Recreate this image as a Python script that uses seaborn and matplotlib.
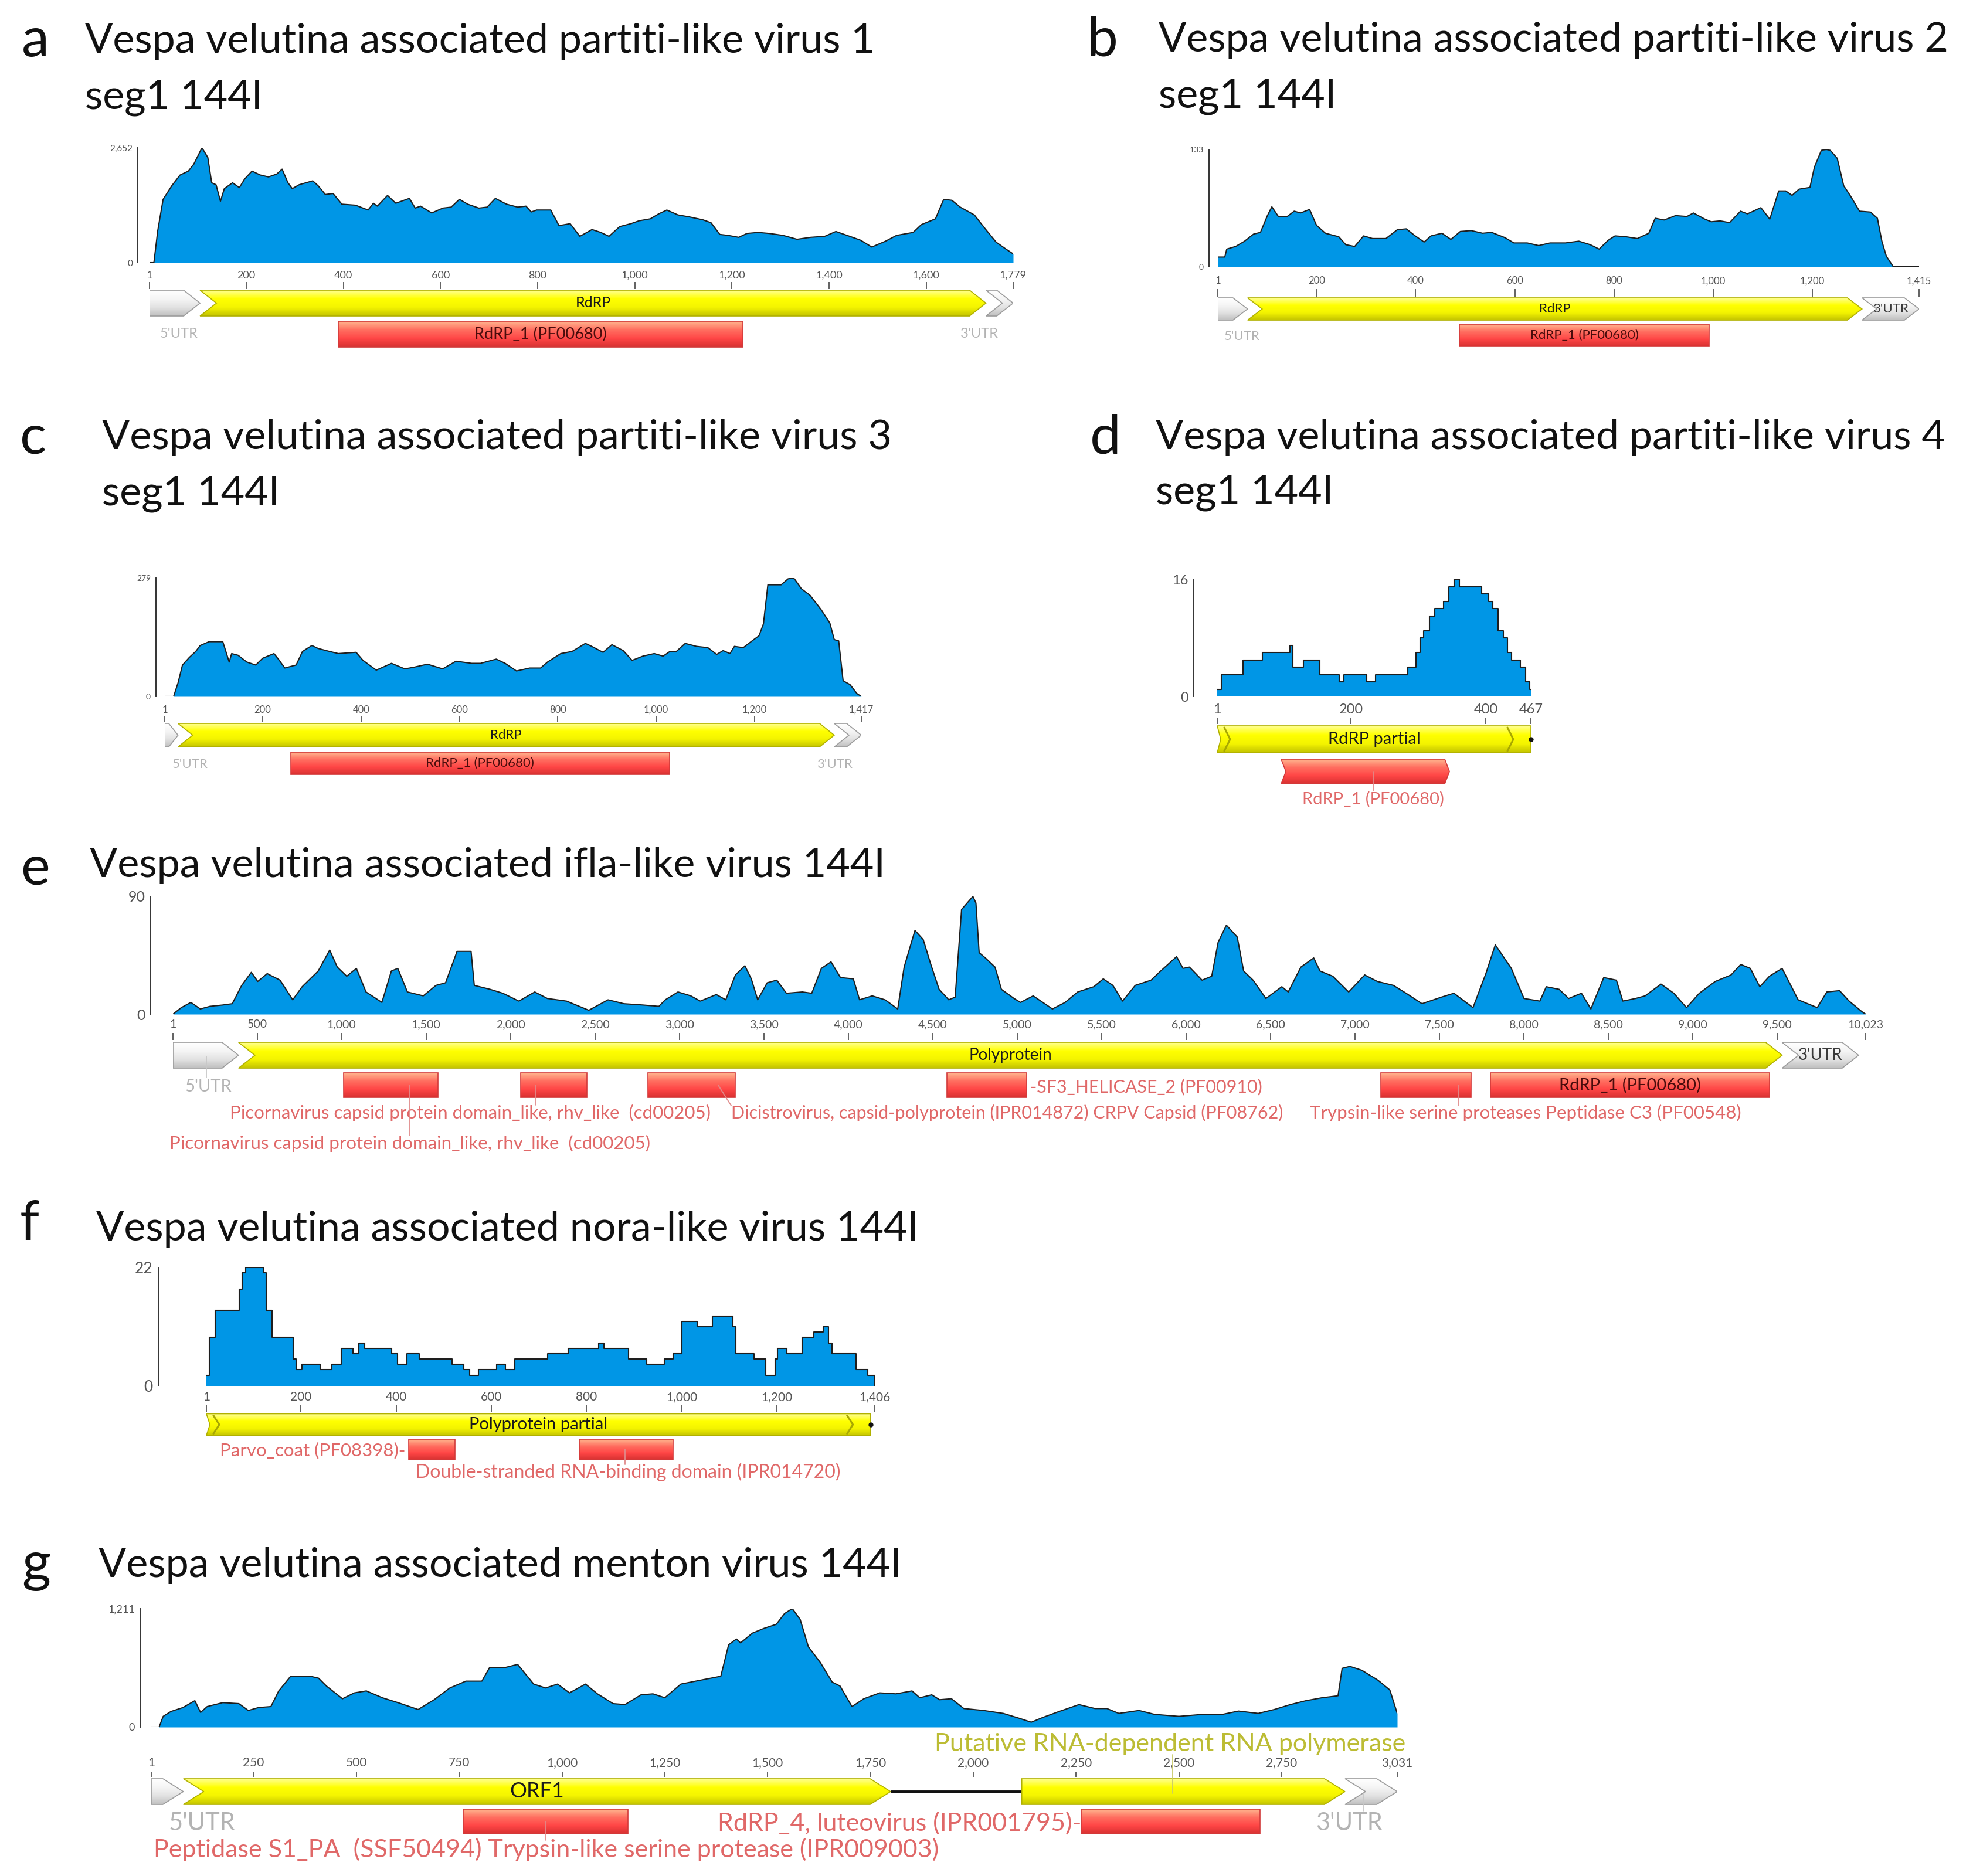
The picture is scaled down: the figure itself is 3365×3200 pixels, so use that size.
import numpy as np
import pandas as pd
import matplotlib
matplotlib.use("Agg")
import matplotlib.pyplot as plt
from matplotlib.patches import Polygon
from matplotlib.colors import LinearSegmentedColormap
import seaborn as sns

# ---------------- data ----------------
# a: partiti-like virus 1
a_len, a_ymax = 1779, 2652
a_pos = [1, 10, 18, 29, 47, 64, 81, 92, 109, 121,
         129, 138, 147, 155, 172, 186, 197, 212, 229, 246,
         263, 274, 286, 295, 309, 337, 348, 363, 379, 397,
         425, 451, 462, 470, 491, 508, 536, 548, 559, 582,
         605, 622, 639, 656, 679, 696, 713, 736, 759, 776,
         787, 798, 827, 844, 867, 887, 912, 930, 947, 969,
         992, 1009, 1032, 1049, 1066, 1089, 1112, 1140, 1157, 1175,
         1192, 1214, 1231, 1254, 1277, 1305, 1334, 1362, 1391, 1414,
         1437, 1465, 1488, 1516, 1539, 1573, 1590, 1619, 1636, 1653,
         1670, 1699, 1721, 1744, 1761, 1779]
a_cov = [0, 0, 742, 1461, 1776, 2023, 2113, 2270, 2652, 2427,
         1843, 1798, 1416, 1708, 1843, 1731, 1933, 2113, 2023, 1978,
         2045, 2158, 1843, 1708, 1798, 1888, 1776, 1573, 1596, 1349,
         1326, 1214, 1371, 1304, 1551, 1371, 1483, 1259, 1304, 1146,
         1259, 1281, 1461, 1349, 1259, 1281, 1483, 1349, 1281, 1304,
         1169, 1214, 1214, 854, 899, 607, 764, 697, 607, 832,
         899, 966, 1011, 1124, 1214, 1101, 1056, 989, 921, 652,
         629, 584, 674, 697, 674, 629, 539, 584, 607, 719,
         629, 517, 360, 494, 629, 697, 877, 1011, 1461, 1438,
         1281, 1101, 787, 472, 337, 202]
a_ticks = [1, 200, 400, 600, 800, 1000, 1200, 1400, 1600, 1779]
a_feats = [(1, 105, "utr", ""), (105, 1723, "cds", "RdRP"), (1723, 1779, "utr", "")]
a_doms = [(390, 1222, "RdRP_1 (PF00680)")]

# b: partiti-like virus 2
b_len, b_ymax = 1415, 133
b_pos = [1, 15, 19, 37, 55, 73, 87, 101, 110, 123,
         141, 155, 168, 186, 200, 218, 245, 259, 277, 295,
         313, 340, 363, 381, 399, 417, 431, 453, 471, 490,
         512, 535, 553, 580, 598, 625, 648, 671, 702, 729,
         752, 770, 788, 802, 824, 847, 870, 883, 901, 924,
         947, 960, 983, 996, 1014, 1033, 1055, 1069, 1096, 1114,
         1132, 1146, 1159, 1173, 1195, 1204, 1218, 1228, 1236, 1250,
         1263, 1277, 1295, 1317, 1331, 1340, 1349, 1363, 1415]
b_cov = [11, 11, 20, 23, 29, 37, 39, 58, 68, 57,
         57, 63, 61, 65, 47, 38, 34, 25, 23, 35,
         32, 32, 42, 43, 35, 28, 35, 38, 31, 40,
         41, 38, 39, 33, 27, 27, 24, 27, 27, 29,
         25, 20, 30, 35, 34, 32, 38, 55, 53, 58,
         57, 61, 54, 51, 52, 50, 63, 60, 67, 54,
         86, 86, 81, 88, 90, 113, 132, 133, 132, 123,
         92, 80, 63, 62, 55, 29, 12, 0, 0]
b_ticks = [1, 200, 400, 600, 800, 1000, 1200, 1415]
b_feats = [(1, 61, "utr", ""), (61, 1300, "cds", "RdRP"), (1300, 1415, "utr", "3'UTR")]
b_doms = [(488, 992, "RdRP_1 (PF00680)")]

# c: partiti-like virus 3
c_len, c_ymax = 1417, 279
c_pos = [1, 19, 28, 37, 51, 64, 73, 91, 119, 132,
         137, 150, 168, 186, 200, 223, 232, 245, 268, 281,
         300, 313, 336, 354, 390, 404, 431, 462, 489, 508,
         535, 566, 593, 625, 643, 675, 693, 716, 743, 765,
         779, 806, 829, 856, 869, 892, 910, 933, 951, 973,
         996, 1014, 1028, 1041, 1059, 1082, 1105, 1123, 1136, 1150,
         1159, 1177, 1195, 1209, 1218, 1227, 1254, 1268, 1275, 1281,
         1295, 1313, 1335, 1353, 1362, 1371, 1380, 1394, 1408, 1417]
c_cov = [0, 0, 32, 74, 92, 106, 120, 129, 129, 81,
         101, 97, 81, 74, 90, 101, 88, 67, 74, 106,
         120, 113, 106, 101, 104, 85, 62, 78, 65, 69,
         76, 65, 83, 78, 78, 88, 78, 60, 67, 67,
         81, 101, 106, 125, 118, 104, 122, 108, 85, 95,
         101, 95, 106, 106, 125, 118, 115, 99, 108, 101,
         118, 115, 131, 143, 171, 263, 263, 277, 279, 277,
         254, 238, 205, 173, 134, 131, 37, 28, 7, 0]
c_ticks = [1, 200, 400, 600, 800, 1000, 1200, 1417]
c_feats = [(1, 28, "utr", ""), (28, 1362, "cds", "RdRP"), (1362, 1417, "utr", "")]
c_doms = [(257, 1027, "RdRP_1 (PF00680)")]

# d: partiti-like virus 4 (step coverage)
d_len, d_ymax = 467, 16
d_pos = [1, 7, 39, 68, 109, 113, 129, 153, 182, 189,
         223, 236, 284, 296, 302, 308, 316, 324, 337, 345,
         353, 361, 394, 404, 410, 418, 426, 432, 438, 451,
         459, 465, 467]
d_cov = [1, 3, 5, 6, 7, 4, 5, 3, 2, 3,
         2, 3, 4, 6, 8, 9, 11, 12, 13, 15,
         16, 15, 14, 13, 12, 9, 8, 6, 5, 4,
         2, 1, 1]
d_ticks = [1, 200, 400, 467]
d_feats = [(1, 467, "partial", "RdRP partial")]
d_doms = [(96, 346, "")]

# e: ifla-like virus
e_len, e_ymax = 10023, 90
e_pos = [1, 50, 107, 163, 220, 295, 352, 408, 465, 503,
         559, 635, 710, 766, 861, 929, 974, 1030, 1087, 1144,
         1238, 1294, 1332, 1389, 1483, 1558, 1615, 1683, 1766, 1785,
         1879, 1954, 2049, 2143, 2218, 2331, 2463, 2577, 2671, 2784,
         2878, 2916, 2991, 3067, 3123, 3218, 3274, 3331, 3387, 3425,
         3463, 3519, 3576, 3633, 3727, 3783, 3840, 3897, 3953, 4029,
         4066, 4141, 4217, 4292, 4330, 4394, 4443, 4488, 4537, 4594,
         4632, 4670, 4737, 4755, 4774, 4811, 4868, 4906, 4981, 5019,
         5094, 5208, 5283, 5358, 5453, 5509, 5566, 5623, 5698, 5792,
         5849, 5943, 5981, 6019, 6094, 6151, 6189, 6238, 6302, 6340,
         6396, 6472, 6566, 6604, 6679, 6755, 6792, 6868, 6962, 7057,
         7132, 7227, 7302, 7396, 7510, 7585, 7698, 7774, 7830, 7925,
         8000, 8094, 8132, 8208, 8264, 8340, 8396, 8472, 8547, 8585,
         8660, 8717, 8811, 8887, 8962, 9038, 9132, 9226, 9283, 9340,
         9396, 9453, 9528, 9623, 9736, 9793, 9868, 9925, 10000, 10023]
e_cov = [0, 5, 9, 4, 6, 7, 8, 22, 32, 25,
         31, 26, 11, 21, 33, 49, 36, 29, 35, 17,
         9, 33, 35, 17, 14, 22, 24, 48, 48, 22,
         19, 16, 10, 17, 12, 10, 3, 11, 8, 7,
         6, 11, 17, 14, 10, 15, 11, 30, 37, 27,
         11, 24, 26, 16, 17, 16, 35, 40, 28, 27,
         11, 14, 11, 4, 36, 64, 57, 38, 19, 11,
         13, 80, 90, 85, 47, 43, 36, 19, 12, 9,
         14, 4, 9, 17, 21, 27, 22, 10, 22, 26,
         33, 44, 35, 36, 26, 29, 55, 68, 59, 33,
         26, 12, 21, 17, 36, 43, 33, 29, 17, 30,
         25, 22, 16, 8, 13, 16, 5, 31, 53, 35,
         12, 10, 21, 19, 12, 16, 4, 28, 26, 10,
         12, 14, 23, 16, 5, 16, 25, 30, 38, 35,
         21, 29, 35, 11, 5, 17, 18, 10, 2, 0]
e_ticks = [1] + list(range(500, 10000, 500)) + [10023]
e_feats = [(1, 389, "utr", ""), (389, 9528, "cds", "Polyprotein"), (9528, 9981, "utr", "3'UTR")]
e_doms = [(1012, 1570, ""), (2060, 2452, ""), (2814, 3331, ""), (4583, 5057, ""),
          (7151, 7687, ""), (7800, 9453, "RdRP_1 (PF00680)")]

# f: nora-like virus (step coverage)
f_len, f_ymax = 1406, 22
f_pos = [1, 7, 20, 70, 76, 83, 120, 127, 139, 183,
         190, 202, 240, 259, 265, 284, 309, 322, 334, 391,
         403, 422, 448, 517, 542, 554, 573, 611, 630, 649,
         718, 762, 825, 837, 888, 926, 963, 982, 1001, 1032,
         1064, 1108, 1114, 1152, 1177, 1196, 1202, 1221, 1253, 1278,
         1297, 1309, 1316, 1366, 1391, 1406]
f_cov = [2, 9, 14, 18, 21, 22, 21, 14, 9, 5,
         3, 4, 3, 3, 4, 7, 6, 8, 7, 6,
         4, 6, 5, 4, 3, 2, 3, 4, 3, 5,
         6, 7, 8, 7, 5, 4, 5, 6, 12, 11,
         13, 11, 6, 5, 2, 5, 7, 6, 9, 10,
         11, 8, 6, 3, 2, 0]
f_ticks = [1, 200, 400, 600, 800, 1000, 1200, 1406]
f_feats = [(1, 1397, "partial", "Polyprotein partial")]
f_doms = [(426, 523, ""), (785, 982, "")]

# g: menton virus
g_len, g_ymax = 3031, 1211
g_pos = [1, 20, 30, 49, 78, 107, 121, 137, 175, 214,
         237, 262, 292, 311, 340, 388, 408, 427, 466, 495,
         524, 563, 601, 650, 689, 727, 766, 805, 824, 863,
         892, 931, 960, 989, 1018, 1057, 1086, 1124, 1153, 1192,
         1221, 1250, 1289, 1337, 1386, 1405, 1424, 1434, 1463, 1492,
         1521, 1541, 1560, 1579, 1599, 1628, 1657, 1676, 1705, 1734,
         1773, 1812, 1851, 1870, 1899, 1918, 1947, 1977, 2025, 2073,
         2112, 2141, 2170, 2209, 2257, 2296, 2325, 2354, 2403, 2441,
         2500, 2558, 2606, 2645, 2693, 2732, 2771, 2809, 2848, 2887,
         2897, 2916, 2945, 2984, 3013, 3022, 3031]
g_cov = [0, 0, 110, 160, 200, 270, 150, 210, 250, 240,
         170, 200, 210, 370, 520, 520, 500, 420, 290, 350,
         370, 300, 250, 180, 280, 400, 470, 470, 611, 611,
         641, 440, 400, 440, 350, 440, 340, 240, 230, 330,
         340, 300, 440, 480, 520, 841, 901, 861, 961, 1011,
         1051, 1161, 1211, 1101, 821, 661, 460, 420, 210, 290,
         350, 340, 370, 300, 330, 280, 290, 190, 170, 140,
         90, 50, 100, 160, 230, 190, 190, 140, 170, 130,
         110, 130, 130, 164, 140, 180, 230, 270, 300, 320,
         601, 621, 581, 480, 380, 260, 140]
g_ticks = [1] + list(range(250, 3000, 250)) + [3031]
g_feats = [(1, 79, "utr", ""), (79, 1799, "cds", "ORF1"), (1799, 2118, "gap", ""),
           (2118, 2904, "cds0", ""), (2904, 3031, "utr", "")]
g_doms = [(759, 1160, ""), (2263, 2697, "")]

titles = [
    ("a", ["Vespa velutina associated partiti-like virus 1", "seg1 144I"]),
    ("b", ["Vespa velutina associated partiti-like virus 2", "seg1 144I"]),
    ("c", ["Vespa velutina associated partiti-like virus 3", "seg1 144I"]),
    ("d", ["Vespa velutina associated partiti-like virus 4", "seg1 144I"]),
    ("e", ["Vespa velutina associated ifla-like virus 144I"]),
    ("f", ["Vespa velutina associated nora-like virus 144I"]),
    ("g", ["Vespa velutina associated menton virus 144I"]),
]

# ---------------- style ----------------
W, H = 3366, 3200
BLUE = "#0096e6"
TICK_GREY = "#555555"
UTR_GREY = "#b3b3b3"
LAB_RED = "#e06868"
OLIVE = "#bcbc34"
GRADS = {
    "cds": ["#ffff90", "#ffff00", "#f4f400", "#c4c400"],
    "dom": ["#ffb48e", "#ff6e60", "#ff4646", "#d83232"],
    "utr": ["#ffffff", "#f5f5f5", "#e2e2e2", "#c0c0c0"],
}
EDGES = {"cds": "#b0b000", "dom": "#d23a3a", "utr": "#9c9c9c"}

sns.set_style("white")
plt.rcParams["font.family"] = ["Lato", "DejaVu Sans"]

fig = plt.figure(figsize=(W / 100, H / 100), dpi=100)
fig.patch.set_facecolor("white")


def add_ax(x0, x1, y0, y1):
    return fig.add_axes([x0 / W, 1 - y1 / H, (x1 - x0) / W, (y1 - y0) / H])


def shade(ax, pts, kind, z=3):
    poly = Polygon(pts, closed=True, fc="none", ec=EDGES[kind], lw=1.2, zorder=z + 1)
    ax.add_patch(poly)
    xs = [p[0] for p in pts]
    ys = [p[1] for p in pts]
    grad = np.linspace(0, 1, 100).reshape(-1, 1)
    cmap = LinearSegmentedColormap.from_list(kind, GRADS[kind])
    im = ax.imshow(grad, cmap=cmap, aspect="auto", interpolation="bilinear",
                   extent=[min(xs), max(xs), max(ys), min(ys)], zorder=z)
    im.set_clip_path(poly)


def arrow_pts(s, e, yc, h, head, point=True, notch=0.0):
    t, b = yc - h / 2, yc + h / 2
    head = min(head, (e - s) * 0.7) if point else 0
    pts = [(s, t), (e - head, t), (e, yc), (e - head, b), (s, b)]
    if notch:
        pts.append((s + notch, yc))
    return pts


def coverage(box, pos, cov, length, ymax, ytxt, yoff, ysize, step=False):
    x0, x1, y0, y1 = box
    ax = add_ax(x0, x1, y0, y1)
    df = pd.DataFrame({"pos": pos, "cov": cov})
    ax.fill_between(df["pos"], df["cov"], 0, color=BLUE, lw=0,
                    step="post" if step else None, zorder=2)
    sns.lineplot(data=df, x="pos", y="cov", ax=ax, color="#1e1e1e", lw=1.5,
                 estimator=None, sort=False, zorder=3,
                 drawstyle="steps-post" if step else "default")
    ax.set_xlim(1, length)
    ax.set_ylim(0, ymax)
    ax.set_xticks([])
    ax.set_xlabel("")
    ax.set_ylabel("")
    ax.set_yticks([0, ymax / 2, ymax])
    ax.set_yticklabels(["0", "", ytxt])
    for s in ["top", "right", "bottom"]:
        ax.spines[s].set_visible(False)
    ax.spines["left"].set_position(("outward", yoff * 0.72))
    ax.spines["left"].set_color("#333333")
    ax.spines["left"].set_linewidth(1.4)
    ax.tick_params(axis="y", direction="inout", length=9, width=1.4, color="#333333",
                   labelsize=ysize, labelcolor=TICK_GREY, pad=2)
    ax.patch.set_alpha(0)
    return ax


def track(box, length, top, hgt, ticks, tsize, tlen, tpad):
    ax = add_ax(box[0], box[1], top, top + hgt)
    ax.set_xticks(ticks)
    ax.set_xticklabels([f"{t:,}" for t in ticks])
    ax.xaxis.set_ticks_position("top")
    ax.tick_params(axis="x", direction="in", length=tlen * 0.72, width=1.3, color=TICK_GREY,
                   labelsize=tsize, labelcolor=TICK_GREY, pad=tpad)
    ax.set_yticks([])
    for s in ax.spines.values():
        s.set_visible(False)
    ax.patch.set_alpha(0)
    return ax


def features(ax, feats, doms, yc, h, dyc, dh, head, fs, upx, dom_partial=False, dfs=None):
    dfs = dfs or fs
    for s, e, kind, lab in feats:
        if kind == "gap":
            ax.plot([s, e], [yc, yc], color="#111111", lw=3.5, zorder=2, solid_capstyle="butt")
            continue
        if kind == "partial":
            t, b = yc - h / 2, yc + h / 2
            pts = [(s, t), (e, t), (e, b), (s, b), (s + 6 * upx, yc)]
            shade(ax, pts, "cds")
            for cx in (s + 12 * upx, e - 40 * upx):
                ax.plot([cx, cx + 10 * upx, cx], [t + 3, yc, b - 3], color="#a8a800", lw=2.2, zorder=5)
            ax.plot([e], [yc], "o", color="#111111", ms=5, zorder=6, clip_on=False)
        else:
            notch = head if (s > 1 and kind in ("cds", "utr")) else 0
            shade(ax, arrow_pts(s, e, yc, h, head, True, notch), "utr" if kind == "utr" else "cds")
        if lab:
            col = "#3a3a3a" if kind == "utr" else "#1a1a1a"
            ax.text((s + e) / 2, yc, lab, ha="center", va="center", fontsize=fs, color=col, zorder=7)
    for s, e, lab in doms:
        if dom_partial:
            w = 8 * upx
            t, b = dyc - dh / 2, dyc + dh / 2
            pts = [(s, t), (e - w, t), (e, dyc), (e - w, b), (s, b), (s + w, dyc)]
        else:
            pts = arrow_pts(s, e, dyc, dh, 0, point=False)
        shade(ax, pts, "dom")
        if lab:
            ax.text((s + e) / 2, dyc, lab, ha="center", va="center", fontsize=dfs,
                    color="#4a0c0c", zorder=7)


def leader(ax, xs, ys, col="#e08a8a"):
    ax.plot(xs, ys, color=col, lw=1.3, zorder=8, clip_on=False)


def finish(ax, length, hgt):
    ax.set_xlim(1, length)
    ax.set_ylim(hgt, 0)


# ---------------- titles ----------------
title_pos = {
    "a": (60, 70, 145, [70, 166]),
    "b": (1880, 70, 1976, [68, 164]),
    "c": (57, 747, 174, [747, 843]),
    "d": (1885, 747, 1971, [747, 841]),
    "e": (60, 1483, 153, [1477]),
    "f": (50, 2089, 164, [2096]),
    "g": (62, 2672, 168, [2670]),
}
for letter, lines in titles:
    lx, ly, tx, tys = title_pos[letter]
    fig.text(lx / W, 1 - ly / H, letter, fontsize=68, ha="center", va="center", color="#111111")
    for line, ty in zip(lines, tys):
        fig.text(tx / W, 1 - ty / H, line, fontsize=50.4, ha="left", va="center", color="#111111")

# ---------------- panel a ----------------
box = (255, 1728, 252, 448)
coverage(box, a_pos, a_cov, a_len, a_ymax, "2,652", 20, 11)
top, hgt = 481, 160
ax = track(box, a_len, top, hgt, a_ticks, 13, 12, 2.5)
upx = (a_len - 1) / (box[1] - box[0])
features(ax, a_feats, a_doms, 36, 44, 89, 44, 28 * upx, 18, upx, dfs=19.5)
ax.text(61, 89, "5'UTR", ha="center", va="center", fontsize=17, color=UTR_GREY)
ax.text(1710, 89, "3'UTR", ha="center", va="center", fontsize=17, color=UTR_GREY)
finish(ax, a_len, hgt)

# ---------------- panel b ----------------
box = (2077, 3273, 255, 455)
coverage(box, b_pos, b_cov, b_len, b_ymax, "133", 15, 10)
top, hgt = 493, 150
ax = track(box, b_len, top, hgt, b_ticks, 12, 13, 4)
upx = (b_len - 1) / (box[1] - box[0])
features(ax, b_feats, b_doms, 34, 38, 79, 38, 25 * upx, 16, upx)
ax.text(50, 81, "5'UTR", ha="center", va="center", fontsize=16, color=UTR_GREY)
finish(ax, b_len, hgt)

# ---------------- panel c ----------------
box = (281, 1469, 986, 1188)
coverage(box, c_pos, c_cov, c_len, c_ymax, "279", 15, 10)
top, hgt = 1222, 130
ax = track(box, c_len, top, hgt, c_ticks, 12, 10, 2.5)
upx = (c_len - 1) / (box[1] - box[0])
features(ax, c_feats, c_doms, 32, 40, 80, 38, 25 * upx, 16, upx)
ax.text(53, 82, "5'UTR", ha="center", va="center", fontsize=16, color=UTR_GREY)
ax.text(1363, 82, "3'UTR", ha="center", va="center", fontsize=16, color=UTR_GREY)
finish(ax, c_len, hgt)

# ---------------- panel d ----------------
box = (2076, 2611, 988, 1188)
coverage(box, d_pos, d_cov, d_len, d_ymax, "16", 40, 17, step=True)
top, hgt = 1225, 170
ax = track(box, d_len, top, hgt, d_ticks, 17, 10, 3)
upx = (d_len - 1) / (box[1] - box[0])
features(ax, d_feats, d_doms, 36, 46, 91, 42, 25 * upx, 21, upx, dom_partial=True)
leader(ax, [233, 233], [91, 124])
ax.text(233, 138, "RdRP_1 (PF00680)", ha="center", va="center", fontsize=21, color=LAB_RED)
finish(ax, d_len, hgt)

# ---------------- panel e ----------------
box = (295, 3182, 1529, 1730)
coverage(box, e_pos, e_cov, e_len, e_ymax, "90", 38, 18)
top, hgt = 1762, 220
ax = track(box, e_len, top, hgt, e_ticks, 14, 12, 4)
upx = (e_len - 1) / (box[1] - box[0])
features(ax, e_feats, e_doms, 38, 44, 89, 42, 28 * upx, 20, upx, dfs=21)
ax.text(210, 92, "5'UTR", ha="center", va="center", fontsize=21, color=UTR_GREY)
leader(ax, [199, 199], [40, 76], col="#c8c8c8")
leader(ax, [1403, 1403], [89, 175])
ax.text(1403, 188, "Picornavirus capsid protein domain_like, rhv_like  (cd00205)",
        ha="center", va="center", fontsize=22.5, color=LAB_RED)
leader(ax, [2146, 2146], [89, 123])
ax.text(1761, 136, "Picornavirus capsid protein domain_like, rhv_like  (cd00205)",
        ha="center", va="center", fontsize=22.5, color=LAB_RED)
leader(ax, [3229, 3306], [89, 124])
ax.text(3306, 136, "Dicistrovirus, capsid-polyprotein (IPR014872) CRPV Capsid (PF08762)",
        ha="left", va="center", fontsize=22, color=LAB_RED)
ax.text(5075, 92, "-SF3_HELICASE_2 (PF00910)", ha="left", va="center", fontsize=22, color=LAB_RED)
leader(ax, [7610, 7610], [89, 124])
ax.text(8010, 136, "Trypsin-like serine proteases Peptidase C3 (PF00548)",
        ha="center", va="center", fontsize=22.5, color=LAB_RED)
finish(ax, e_len, hgt)

# ---------------- panel f ----------------
box = (352, 1492, 2162, 2364)
coverage(box, f_pos, f_cov, f_len, f_ymax, "22", 82, 19, step=True)
top, hgt = 2397, 140
ax = track(box, f_len, top, hgt, f_ticks, 15, 11, 3)
upx = (f_len - 1) / (box[1] - box[0])
features(ax, f_feats, f_doms, 33, 37, 75, 35, 25 * upx, 21, upx)
ax.text(420, 77, "Parvo_coat (PF08398)-", ha="right", va="center", fontsize=22.5, color=LAB_RED)
leader(ax, [881, 881], [75, 101])
ax.text(441, 114, "Double-stranded RNA-binding domain (IPR014720)",
        ha="left", va="center", fontsize=23, color=LAB_RED)
finish(ax, f_len, hgt)

# ---------------- panel g ----------------
box = (258, 2383, 2744, 2946)
coverage(box, g_pos, g_cov, g_len, g_ymax, "1,211", 19, 13)
top, hgt = 3023, 160
ax = track(box, g_len, top, hgt, g_ticks, 15, 8, 4)
upx = (g_len - 1) / (box[1] - box[0])
features(ax, g_feats, g_doms, 33, 44, 84, 42, 35 * upx, 26, upx)
ax.text(3052, -48, "Putative RNA-dependent RNA polymerase", ha="right", va="center",
        fontsize=31, color=OLIVE)
leader(ax, [2485, 2485], [-30, 36], col="#c9c96a")
ax.text(124, 87, "5'UTR", ha="center", va="center", fontsize=30, color=UTR_GREY)
ax.text(2914, 87, "3'UTR", ha="center", va="center", fontsize=30, color=UTR_GREY)
leader(ax, [2950, 2950], [36, 66], col="#c8c8c8")
ax.text(2263, 87, "RdRP_4, luteovirus (IPR001795)-", ha="right", va="center",
        fontsize=31, color=LAB_RED)
leader(ax, [959, 959], [84, 116])
ax.text(7, 132, "Peptidase S1_PA  (SSF50494) Trypsin-like serine protease (IPR009003)",
        ha="left", va="center", fontsize=31, color=LAB_RED)
finish(ax, g_len, hgt)

fig.savefig("out.png", dpi=100, facecolor="white")
